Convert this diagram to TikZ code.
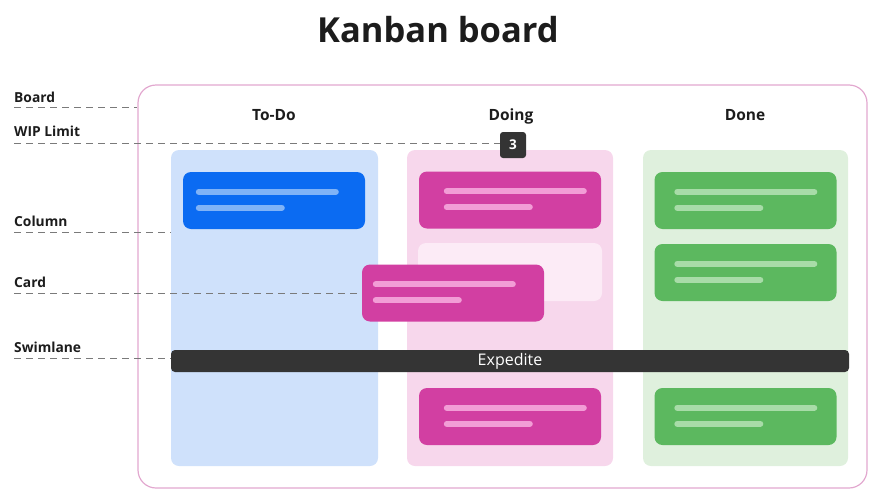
\documentclass[tikz,border=0pt]{standalone}
\usepackage{fontspec}
\setmainfont{Open Sans}
\definecolor{ink}{HTML}{1C1C1C}
\definecolor{boardpink}{HTML}{E2A8CF}
\definecolor{guidegray}{HTML}{7A7A7A}
\definecolor{todobg}{HTML}{CFE1FB}
\definecolor{todocard}{HTML}{0B6BF2}
\definecolor{todoline}{HTML}{80B3F7}
\definecolor{doingbg}{HTML}{F7D7EC}
\definecolor{doingcard}{HTML}{D23FA2}
\definecolor{doingline}{HTML}{F29DD6}
\definecolor{ghostcard}{HTML}{FCEBF6}
\definecolor{donebg}{HTML}{DFF0DD}
\definecolor{donecard}{HTML}{5CB85F}
\definecolor{doneline}{HTML}{A8DCA8}
\definecolor{darkbar}{HTML}{343434}
\tikzset{
  lbl/.style={anchor=west, inner sep=0pt, text=ink, font=\bfseries\fontsize{13.8}{16}\selectfont},
  header/.style={anchor=base, inner sep=0pt, text=ink, font=\bfseries\fontsize{15.5}{18}\selectfont},
  guide/.style={draw=guidegray, line width=0.9pt, dash pattern=on 7pt off 5pt},
  column/.style={rectangle, rounded corners=8pt, inner sep=0pt, draw=none},
  card/.style={rectangle, rounded corners=8pt, inner sep=0pt, draw=none,
    minimum width=182pt, minimum height=57pt},
  cardline/.style={line width=6pt, line cap=round},
}
% one card with its two text bars; #6 is the inset of the bars from the card's left edge
\newcommand\kcard[6]{%
  \node[card, fill=#4] (#1) at (#2,#3) {};
  \draw[cardline, draw=#5] ([xshift=#6pt+3pt,yshift=-20pt]#1.north west) -- ++(137,0);
  \draw[cardline, draw=#5] ([xshift=#6pt+3pt,yshift=-36pt]#1.north west) -- ++(83,0);
}
\begin{document}
\begin{tikzpicture}[x=1pt, y=-1pt]
  \useasboundingbox (0,0) rectangle (870,490);
  \clip (0,0) rectangle (870,490);

  % title
  \node[anchor=base, inner sep=0pt, text=ink, font=\bfseries\fontsize{34.5}{38}\selectfont] (title) at (438,42) {Kanban board};

  % board outline
  \node[rectangle, rounded corners=18pt, draw=boardpink, line width=1.2pt,
        minimum width=729pt, minimum height=403pt, inner sep=0pt] (board) at (502.5,286.5) {};

  % columns
  \node[column, fill=todobg,  minimum width=207pt, minimum height=316pt] (todo)  at (274.5,308) {};
  \node[column, fill=doingbg, minimum width=206pt, minimum height=316pt] (doing) at (510,308) {};
  \node[column, fill=donebg,  minimum width=205pt, minimum height=316pt] (done)  at (745.5,308) {};

  % column headers
  \node[header] (hTodo)  at (274,120) {To-Do};
  \node[header] (hDoing) at (511,120) {Doing};
  \node[header] (hDone)  at (745,120) {Done};

  % WIP limit badge
  \node[rectangle, rounded corners=3pt, fill=darkbar, minimum width=26pt, minimum height=26pt,
        inner sep=0pt, text=white, font=\bfseries\fontsize{13.5}{15}\selectfont] (wip) at (513,145) {3};

  % cards
  \kcard{cTodo}{274}{200.5}{todocard}{todoline}{13}
  \kcard{cDoingA}{510}{200}{doingcard}{doingline}{25}
  \node[card, fill=ghostcard, minimum width=184pt, minimum height=58pt] (ghost) at (510,272) {};
  \kcard{cDoingC}{510}{416.5}{doingcard}{doingline}{25}
  \kcard{cDoneA}{745.5}{200.5}{donecard}{doneline}{20}
  \kcard{cDoneB}{745.5}{272.5}{donecard}{doneline}{20}
  \kcard{cDoneC}{745.5}{416.5}{donecard}{doneline}{20}
  \kcard{cMove}{453}{293}{doingcard}{doingline}{11}

  % expedite swimlane
  \node[rectangle, rounded corners=4pt, fill=darkbar, minimum width=678pt, minimum height=22pt,
        inner sep=0pt, text=white, font=\fontsize{16}{18}\selectfont] (lane) at (510,361) {Expedite};

  % legend labels
  \node[lbl] (lBoard)  at (14,97)  {Board};
  \node[lbl] (lWip)    at (14,131) {WIP Limit};
  \node[lbl] (lColumn) at (14,221) {Column};
  \node[lbl] (lCard)   at (14,282) {Card};
  \node[lbl] (lLane)   at (14,347) {Swimlane};

  % guide lines from labels to the parts they name
  \coordinate (gBoard)  at (14,107);
  \coordinate (gWip)    at (14,143);
  \coordinate (gColumn) at (14,232);
  \coordinate (gCard)   at (14,293);
  \coordinate (gLane)   at (14,358);
  \draw[guide] (gBoard)  -- (gBoard -| board.west);
  \draw[guide] (gWip)    -- (gWip -| wip.west);
  \draw[guide] (gColumn) -- (gColumn -| todo.west);
  \draw[guide] (gCard)   -- (gCard -| cMove.west);
  \draw[guide] (gLane)   -- (gLane -| lane.west);
\end{tikzpicture}
\end{document}
